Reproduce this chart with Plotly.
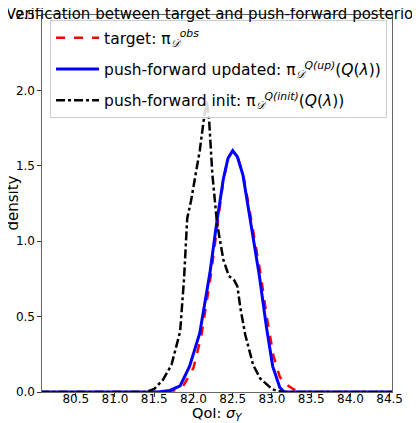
import plotly.graph_objects as go

# target density (red, dashed)
x_target = [80.05, 81.6, 81.75, 81.87, 82.0, 82.1, 82.22, 82.30, 82.38, 82.44, 82.50, 82.56,
            82.63, 82.70, 82.77, 82.85, 82.94, 83.02, 83.10, 83.18, 83.27, 83.35, 84.55]
d_target = [0, 0, 0.01, 0.04, 0.16, 0.37, 0.77, 1.08, 1.40, 1.55, 1.60, 1.56,
            1.45, 1.25, 1.04, 0.80, 0.48, 0.24, 0.10, 0.05, 0.02, 0, 0]

# push-forward updated (blue)
x_up = [80.05, 81.55, 81.7, 81.83, 81.95, 82.08, 82.21, 82.29, 82.38, 82.44, 82.50, 82.56,
        82.63, 82.70, 82.76, 82.84, 82.93, 83.01, 83.10, 83.16, 84.55]
d_up = [0, 0, 0.01, 0.04, 0.17, 0.39, 0.79, 1.10, 1.41, 1.55, 1.60, 1.56,
        1.44, 1.22, 1.01, 0.77, 0.43, 0.17, 0.03, 0, 0]

# push-forward init (black, dash-dot)
x_init = [80.05, 81.4, 81.5, 81.61, 81.72, 81.83, 81.88, 81.92, 81.97, 82.03, 82.08, 82.13,
          82.17, 82.20, 82.24, 82.30, 82.38, 82.45, 82.52, 82.56, 82.60, 82.66, 82.76,
          82.85, 82.93, 83.0, 83.08, 83.15, 84.55]
d_init = [0, 0, 0.02, 0.08, 0.18, 0.40, 0.75, 1.15, 1.27, 1.45, 1.60, 1.80,
          1.93, 1.80, 1.45, 1.12, 0.88, 0.77, 0.74, 0.70, 0.55, 0.38, 0.18,
          0.09, 0.05, 0.02, 0.005, 0, 0]

x_ticks = [80.5, 81.0, 81.5, 82.0, 82.5, 83.0, 83.5, 84.0, 84.5]
y_ticks = [0.0, 0.5, 1.0, 1.5, 2.0, 2.5]

fig = go.Figure()
fig.add_trace(go.Scatter(x=x_target, y=d_target, mode="lines", legendgroup="a",
                         line=dict(color="red", width=2.5, dash="dash"),
                         name="target: π<sub><i>𝒟</i></sub><sup><i>obs</i></sup>"))
fig.add_trace(go.Scatter(x=x_up, y=d_up, mode="lines", legendgroup="b",
                         line=dict(color="blue", width=3),
                         name="push-forward updated: π<sub><i>𝒟</i></sub><sup><i>Q(up)</i></sup>(<i>Q</i>(<i>λ</i>))"))
fig.add_trace(go.Scatter(x=x_init, y=d_init, mode="lines", legendgroup="c",
                         line=dict(color="black", width=2.5, dash="dashdot"),
                         name="push-forward init: π<sub><i>𝒟</i></sub><sup><i>Q(init)</i></sup>(<i>Q</i>(<i>λ</i>))"))

axis_style = dict(showline=True, linecolor="#666", linewidth=1.2, mirror=True,
                  ticks="outside", ticklen=3.5, tickcolor="#333", showgrid=False,
                  zeroline=False, automargin=False, tickfont=dict(size=12, color="black"))

# page body adds an 8px offset, so the figure is 8px smaller than the window
fig.update_layout(
    width=412, height=415,
    margin=dict(l=34, r=28, t=7, b=31),
    paper_bgcolor="white", plot_bgcolor="white",
    font=dict(family="DejaVu Sans", color="black"),
    title=dict(text="Verification between target and push-forward posterior",
               x=0.497, xref="container", y=0.999, yref="container", yanchor="top",
               font=dict(size=15)),
    xaxis=dict(range=[80.07, 84.53], tickvals=x_ticks, tickformat=".1f",
               ticklabelstandoff=-8, **axis_style),
    yaxis=dict(range=[0, 2.5], tickvals=y_ticks, tickformat=".1f", **axis_style),
    legend=dict(x=0.023, y=0.986, xanchor="left", yanchor="top",
                bgcolor="rgba(255,255,255,0.85)", bordercolor="#ccc", borderwidth=1,
                font=dict(size=15.5), tracegroupgap=8, itemwidth=43),
    annotations=[
        dict(text="QoI: <i>σ</i><sub><i>Y</i></sub>", xref="paper", yref="paper",
             x=0.5, y=0, yshift=-22, xanchor="center", yanchor="middle",
             showarrow=False, font=dict(size=14.5)),
        dict(text="density", xref="paper", yref="paper", textangle=-90,
             x=0, y=0.5, xshift=-30, xanchor="center", yanchor="middle",
             showarrow=False, font=dict(size=15)),
    ],
)

fig.write_html("out.html")
